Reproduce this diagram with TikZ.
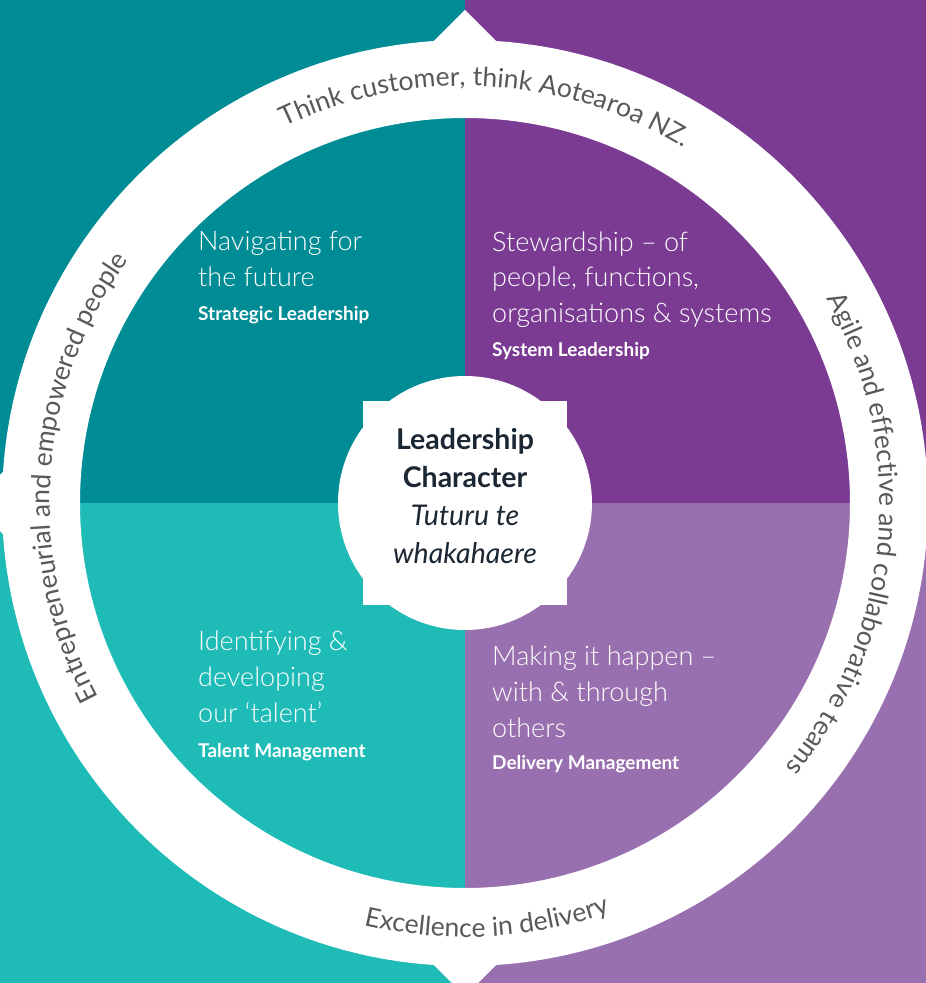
\documentclass[tikz,border=0pt]{standalone}
\usepackage{fontspec}
\setmainfont{Lato}
\IfFontExistsTF{Lato Light}{\newfontfamily\lightfont{Lato Light}}{\newfontfamily\lightfont{Lato}}
\usetikzlibrary{decorations.text}

\definecolor{tealdark}{HTML}{008C95}
\definecolor{teallight}{HTML}{1EBBB7}
\definecolor{purpledark}{HTML}{7B3B93}
\definecolor{purplelight}{HTML}{9970AF}
\definecolor{ringgray}{HTML}{595959}
\definecolor{inkdark}{HTML}{1B2733}

\newcommand{\ringfont}{\fontsize{26.5}{30}\selectfont}
\newcommand{\quadlabel}[1]{{\normalfont\bfseries\fontsize{19}{22}\selectfont #1}}

\tikzset{
    quadtext/.style={anchor=base west, align=left, inner sep=0pt, text=white,
        font=\lightfont\fontsize{27}{36}\selectfont},
    centretext/.style={anchor=base, align=center, inner sep=0pt, text=inkdark,
        font=\fontsize{28.5}{38}\selectfont},
    ringtext/.style={decorate, decoration={text along path, text align=center,
        text color=ringgray, text={|\ringfont|#1}}}
}

\begin{document}
\begin{tikzpicture}[x=1pt, y=1pt]
    \useasboundingbox (-465,-480) rectangle (461,503);
    % four quarters
    \fill[tealdark] (-465,0) rectangle (0,503);
    \fill[purpledark] (0,0) rectangle (461,503);
    \fill[teallight] (-465,-480) rectangle (0,0);
    \fill[purplelight] (0,-480) rectangle (461,0);
    % white ring and its four pointers
    \fill[white, even odd rule] (0,0) circle (463) (0,0) circle (385);
    \foreach \a in {0,90,180,270}
        \fill[white, rotate=\a] (-33,460) -- (0,493) -- (33,460) -- cycle;
    % centre disc
    \fill[white] (0,0) circle (127);
    \fill[white] (-102,-102) rectangle (102,102);

    % multi-line nodes sit on the baseline of their last line
    \node[centretext] (character) at (0,-60) {\textbf{Leadership}\\\textbf{Character}\\\textit{Tuturu te}\\\textit{whakahaere}};

    \node[quadtext] (strategic) at (-267,182) {Navigating for\\the future\\[-2pt]\quadlabel{Strategic Leadership}};
    \node[quadtext] (system) at (27,146) {Stewardship – of\\people, functions,\\organisations \& systems\\[-2pt]\quadlabel{System Leadership}};
    \node[quadtext] (talent) at (-267,-254) {Identifying \&\\developing\\our ‘talent’\\[-1pt]\quadlabel{Talent Management}};
    \node[quadtext] (delivery) at (27,-266) {Making it happen –\\with \& through\\others\\[-4pt]\quadlabel{Delivery Management}};

    % texts round the ring
    \path[ringtext={Think customer, think Aotearoa NZ.}] (147:417) arc[start angle=147, end angle=27, radius=417];
    \path[ringtext={Agile and effective and collaborative teams}] (55:415) arc[start angle=55, end angle=-65, radius=415];
    \path[ringtext={Excellence in delivery}] (213:434) arc[start angle=213, end angle=333, radius=434];
    \path[ringtext={Entrepreneurial and empowered people}] (236:415) arc[start angle=236, end angle=116, radius=415];
\end{tikzpicture}
\end{document}
